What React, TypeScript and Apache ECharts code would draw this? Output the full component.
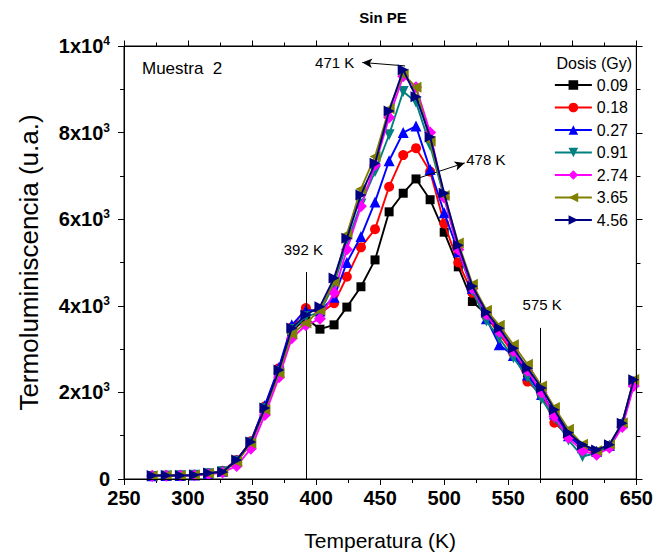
import React, { useEffect, useRef } from 'react';
import * as echarts from 'echarts';

const temperatures = [272, 283, 294, 305, 316, 327, 338, 349, 360, 371, 381, 392, 403, 414, 424, 435, 446, 457, 468, 478, 489, 500, 511, 522, 533, 543, 554, 565, 576, 586, 597, 608, 619, 629, 639, 648];

const dose009 = [70, 75, 80, 90, 120, 170, 400, 820, 1620, 2480, 3400, 3720, 3460, 3560, 3970, 4440, 5060, 6170, 6600, 6930, 6450, 5700, 4900, 4100, 3800, 3400, 2950, 2450, 2000, 1500, 1050, 750, 620, 760, 1280, 2250];
const dose018 = [80, 80, 85, 95, 130, 190, 440, 870, 1680, 2560, 3500, 3950, 3820, 4060, 4670, 5350, 5770, 6750, 7480, 7640, 7100, 5900, 5000, 4300, 3750, 3350, 2900, 2250, 1950, 1300, 1000, 720, 600, 760, 1250, 2200];
const dose027 = [75, 80, 80, 90, 125, 180, 430, 860, 1700, 2580, 3560, 3900, 3880, 4200, 5000, 5600, 6400, 7350, 8000, 8150, 7150, 6150, 5250, 4400, 3700, 3100, 2850, 2400, 1950, 1500, 1000, 720, 640, 780, 1300, 2250];
const dose091 = [60, 70, 75, 85, 120, 170, 410, 830, 1620, 2480, 3450, 3750, 3850, 4500, 5450, 6350, 7100, 7950, 8950, 8700, 7700, 6500, 5300, 4350, 3650, 3250, 2800, 2350, 1850, 1400, 900, 520, 600, 740, 1250, 2200];
const dose274 = [70, 75, 80, 85, 110, 150, 300, 700, 1480, 2350, 3250, 3550, 3700, 4300, 5300, 6300, 7250, 8350, 9300, 9050, 8000, 6500, 5300, 4400, 3800, 3400, 2950, 2500, 2000, 1450, 950, 650, 560, 720, 1200, 2150];
const dose365 = [75, 80, 80, 90, 125, 170, 400, 830, 1600, 2450, 3350, 3600, 3900, 4550, 5650, 6700, 7450, 8550, 9350, 9050, 7800, 6550, 5450, 4500, 3900, 3550, 3100, 2650, 2150, 1650, 1150, 800, 650, 800, 1300, 2300];
const dose456 = [80, 80, 80, 90, 140, 160, 440, 855, 1640, 2520, 3490, 3790, 3980, 4640, 5560, 6560, 7290, 8500, 9450, 8830, 7900, 6600, 5400, 4450, 3850, 3480, 3020, 2560, 2100, 1600, 1070, 790, 670, 790, 1290, 2290];

const doseNames = ['0.09', '0.18', '0.27', '0.91', '2.74', '3.65', '4.56'];
const doseValues = [dose009, dose018, dose027, dose091, dose274, dose365, dose456];
const doseColors = ['#000000', '#ff0000', '#0000ff', '#008080', '#ff00ff', '#808000', '#000080'];
const doseSymbols = ['rect', 'circle', 'triangle', 'triangle', 'diamond', 'triangle', 'triangle'];
const doseRotations = [0, 0, 0, 180, 0, 90, -90];
const doseSizes = [9, 10, 11, 11, 12, 11, 11];

const xTicks = { min: 250, max: 650, step: 50 };
const yTicks = { min: 0, max: 10000, step: 2000 };
const topTickValues = [250, 275, 300, 325, 350, 375, 400, 425, 450, 475, 500, 525, 550, 575, 600, 625, 650];
const rightTickValues = [0, 1000, 2000, 3000, 4000, 5000, 6000, 7000, 8000, 9000, 10000];

const peakLines = [392, 575];
const peakLineTops = [4780, 3490];
const FONT = 'Liberation Sans, Arial, sans-serif';
const W = 656;
const H = 557;

export default function App() {
  const ref = useRef<HTMLDivElement>(null);
  useEffect(() => {
    const chart = echarts.init(ref.current!, null, { renderer: 'svg' });
    const tickStyle = {
      axisTick: { show: true, inside: false, length: 6, lineStyle: { color: '#000', width: 1 } },
      minorTick: { show: true, splitNumber: 2, length: 4, lineStyle: { color: '#000', width: 1 } },
      splitLine: { show: false },
    };
    const yFmt = (v: number) => {
      if (v === 0) return '{b|0}';
      if (v === 10000) return '{b|1x10}{s|4}';
      return `{b|${v / 1000}x10}{s|3}`;
    };
    const series: any[] = doseNames.map((name, i) => ({
      name,
      type: 'line',
      data: temperatures.map((t, j) => [t, doseValues[i][j]]),
      symbol: doseSymbols[i],
      symbolRotate: doseRotations[i],
      symbolSize: doseSizes[i],
      showAllSymbol: true,
      lineStyle: { color: doseColors[i], width: 1.9 },
      itemStyle: { color: doseColors[i] },
      z: 2 + i,
    }));
    series.push({
      name: 'anno',
      type: 'line',
      data: [],
      silent: true,
      z: 20,
      markLine: {
        silent: true,
        animation: false,
        symbol: 'none',
        lineStyle: { color: '#000', width: 1, type: 'solid' },
        label: { show: false },
        data: [
          ...peakLines.map((t, i) => [
            { coord: [t, 0], symbol: 'none' },
            { coord: [t, peakLineTops[i]], symbol: 'none' },
          ]),
          [
            { coord: [469.5, 9540], symbol: 'none' },
            { coord: [436, 9620], symbol: 'arrow', symbolSize: [7, 10] },
          ],
          [
            { coord: [481, 6960], symbol: 'none' },
            { coord: [516, 7300], symbol: 'arrow', symbolSize: [7, 10] },
          ],
        ],
      },
      markPoint: {
        silent: true,
        animation: false,
        symbol: 'circle',
        symbolSize: 1,
        itemStyle: { color: 'rgba(0,0,0,0)' },
        label: {
          show: true,
          position: 'inside',
          color: '#000',
          fontSize: 15,
          fontFamily: FONT,
          formatter: (p: any) => p.name,
        },
        data: [
          { name: '471 K', coord: [414.5, 9630] },
          { name: '478 K', coord: [532.5, 7390] },
          { name: '392 K', coord: [390, 5290] },
          { name: '575 K', coord: [576.5, 4020] },
        ],
      },
    });

    const textGraphics: any[] = [
      { type: 'text', x: 383, y: 17, style: { text: 'Sin PE', font: `bold 15px ${FONT}`, fill: '#000', textAlign: 'center', textVerticalAlign: 'middle' } },
      { type: 'text', x: 632, y: 63, style: { text: 'Dosis (Gy)', font: `16px ${FONT}`, fill: '#000', textAlign: 'right', textVerticalAlign: 'middle' } },
      { type: 'text', x: 142, y: 68, style: { text: 'Muestra  2', font: `17px ${FONT}`, fill: '#000', textAlign: 'left', textVerticalAlign: 'middle' } },
    ];

    const option: any = {
      animation: false,
      backgroundColor: '#fff',
      textStyle: { fontFamily: FONT },
      grid: { left: 124, right: 15, top: 46, bottom: 78, show: true, borderColor: '#000', borderWidth: 1, backgroundColor: 'rgba(0,0,0,0)' },
      xAxis: {
        type: 'value',
        position: 'bottom',
        min: xTicks.min,
        max: xTicks.max,
        interval: xTicks.step,
        axisLine: { show: true, onZero: false, lineStyle: { color: '#000', width: 1 } },
        ...tickStyle,
        axisLabel: { color: '#000', fontSize: 20, fontWeight: 'bold', fontFamily: FONT, margin: 9 },
        name: 'Temperatura (K)',
        nameLocation: 'middle',
        nameGap: 51,
        nameTextStyle: { color: '#000', fontSize: 21, fontFamily: FONT },
      },
      yAxis: {
        type: 'value',
        position: 'left',
        min: yTicks.min,
        max: yTicks.max,
        interval: yTicks.step,
        axisLine: { show: true, onZero: false, lineStyle: { color: '#000', width: 1 } },
        ...tickStyle,
        axisLabel: {
          color: '#000',
          margin: 14,
          formatter: yFmt,
          rich: {
            b: { fontSize: 20, fontWeight: 'bold', fontFamily: FONT, color: '#000' },
            s: { fontSize: 12, fontWeight: 'bold', fontFamily: FONT, color: '#000', verticalAlign: 'top', padding: [0, 0, 10, 0] },
          },
        },
        name: 'Termoluminiscencia (u.a.)',
        nameLocation: 'middle',
        nameGap: 82,
        nameTextStyle: { color: '#000', fontSize: 26, fontFamily: FONT },
      },
      legend: {
        data: doseNames,
        orient: 'vertical',
        right: 28,
        top: 76,
        padding: 0,
        itemWidth: 37,
        itemHeight: 12,
        itemGap: 4.5,
        textStyle: { color: '#000', fontSize: 16, fontFamily: FONT, lineHeight: 18 },
      },
      graphic: textGraphics,
      series,
    };
    chart.setOption(option);

    // top and right frame with outward ticks, positioned through the chart's own scales
    const toPx = (v: number[]) => chart.convertToPixel({ gridIndex: 0 }, v) as number[];
    const crisp = (n: number) => Math.round(n) + 0.5;
    const tl = toPx([xTicks.min, yTicks.max]);
    const br = toPx([xTicks.max, yTicks.min]);
    const topY = crisp(tl[1]);
    const rightX = crisp(br[0]);
    const leftX = crisp(tl[0]);
    const bottomY = crisp(br[1]);
    const lineStyle = { stroke: '#000', lineWidth: 1, fill: 'none' };
    const frame: any[] = [
      {
        type: 'rect',
        z: 200,
        silent: true,
        shape: { x: leftX, y: topY, width: rightX - leftX, height: bottomY - topY },
        style: lineStyle,
      },
    ];
    topTickValues.forEach((v) => {
      const p = toPx([v, yTicks.max]);
      const len = v % xTicks.step === 0 ? 6 : 4;
      const x = crisp(p[0]);
      frame.push({ type: 'line', z: 200, silent: true, shape: { x1: x, y1: topY, x2: x, y2: topY - len }, style: lineStyle });
    });
    rightTickValues.forEach((v) => {
      const p = toPx([xTicks.max, v]);
      const len = v % yTicks.step === 0 ? 6 : 4;
      const y = crisp(p[1]);
      frame.push({ type: 'line', z: 200, silent: true, shape: { x1: rightX, y1: y, x2: rightX + len, y2: y }, style: lineStyle });
    });
    chart.setOption({ graphic: [...textGraphics, ...frame] });
    return () => chart.dispose();
  }, []);
  return <div ref={ref} style={{ position: 'fixed', left: 0, top: 0, width: W, height: H }} />;
}
